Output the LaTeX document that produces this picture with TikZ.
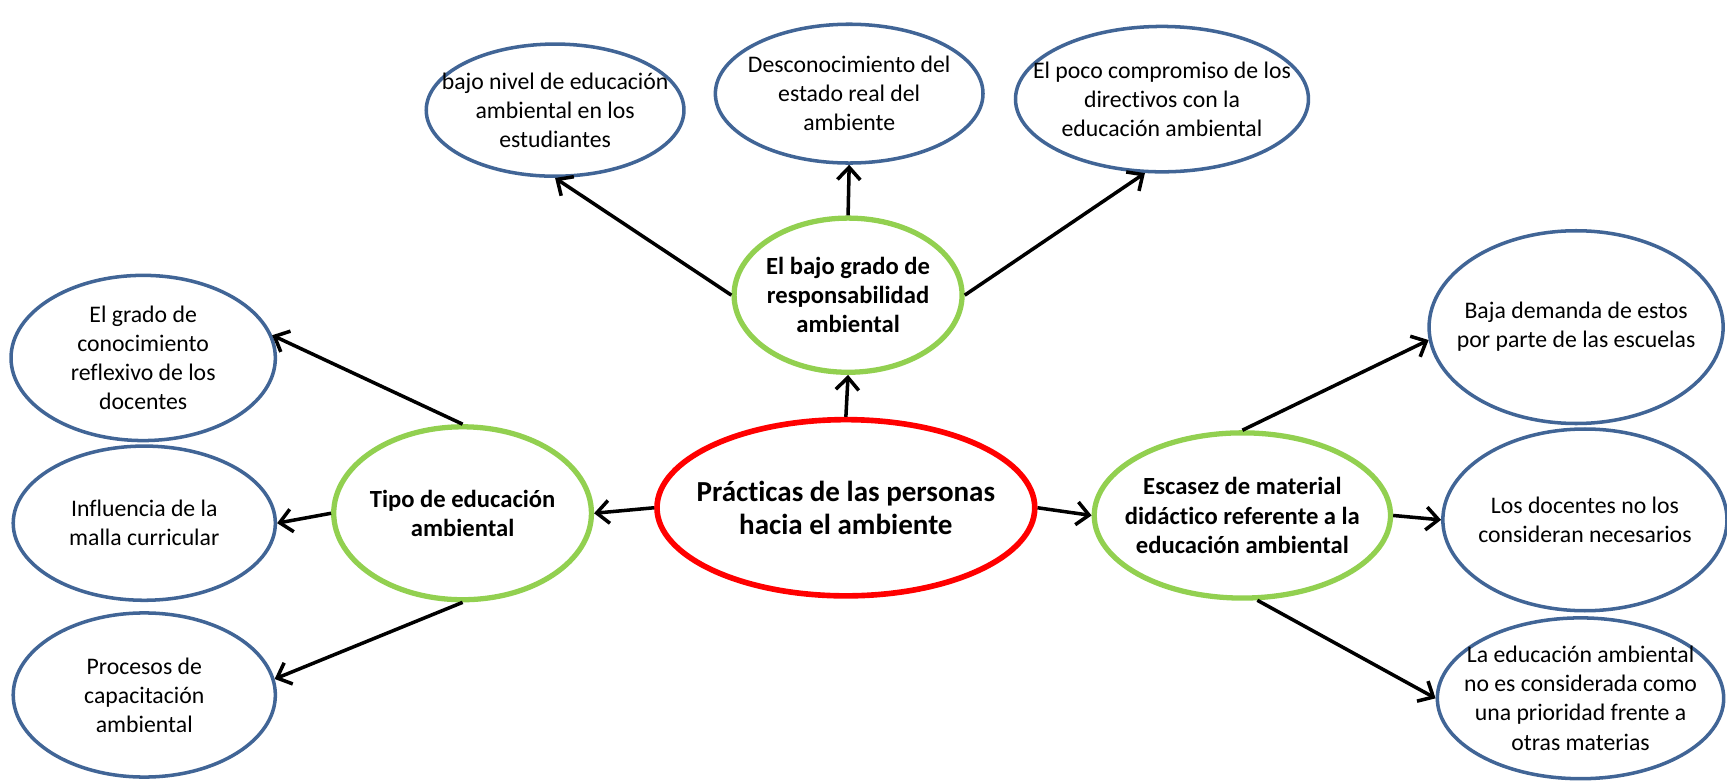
\documentclass[tikz,border=0pt]{standalone}
\usepackage{fontspec}
\setmainfont{Carlito}[Ligatures=NoCommon]
\usetikzlibrary{shapes.geometric, arrows.meta}
\newcommand{\uu}{0.022cm}
\definecolor{leafblue}{RGB}{65,101,150}
\definecolor{branchgreen}{RGB}{146,208,80}
\tikzset{
	dims/.style 2 args={minimum width=#1*\uu, minimum height=#2*\uu},
	leaf/.style={draw=leafblue, ellipse, line width=2pt, inner sep=-30pt, align=center, font=\fontsize{13.5}{16.5}\selectfont},
	branch/.style={draw=branchgreen, ellipse, line width=3pt, inner sep=-30pt, align=center, font=\fontsize{14}{16.5}\selectfont\bfseries},
	root/.style={draw=red, ellipse, line width=3.2pt, inner sep=-45pt, align=center, font=\fontsize{16.5}{19}\selectfont\bfseries},
}

\begin{document}
\begin{tikzpicture}[x=\uu, y=-\uu]
	\useasboundingbox (0,0) rectangle (1568,710);

	\node (prac) [root, dims={343}{160}] at (768,461) {Prácticas de las personas\\hacia el ambiente};

	% three branches
	\node (resp) [branch, dims={207}{140}] at (770,268) {El bajo grado de\\responsabilidad\\ambiental};
	\node (tipo) [branch, dims={234}{157}] at (420,466) {Tipo de educación\\ambiental};
	\node (esca) [branch, dims={269}{150}] at (1128,468) {Escasez de material\\didáctico referente a la\\educación ambiental};

	% leaves on top
	\node (nivel) [leaf, dims={234}{120}] at (504,100) {bajo nivel de educación\\ambiental en los\\estudiantes};
	\node (desc) [leaf, dims={243}{126}] at (771,85) {Desconocimiento del\\estado real del\\ambiente};
	\node (comp) [leaf, dims={266}{132}] at (1055,90) {El poco compromiso de los\\directivos con la\\educación ambiental};

	% leaves on the left
	\node (grado) [leaf, dims={240}{150}] at (130,325) {El grado de\\conocimiento\\reflexivo de los\\docentes};
	\node (malla) [leaf, dims={238}{140}] at (131,475) {Influencia de la\\malla curricular};
	\node (capa) [leaf, dims={238}{149}] at (131,631) {Procesos de\\capacitación\\ambiental};

	% leaves on the right
	\node (dem) [leaf, dims={267}{175}] at (1431,297) {Baja demanda de estos\\por parte de las escuelas};
	\node (nec) [leaf, dims={258}{165}] at (1439,472) {Los docentes no los\\consideran necesarios};
	\node (prio) [leaf, dims={260}{146}] at (1435,634) {La educación ambiental\\no es considerada como\\una prioridad frente a\\otras materias};

	\begin{scope}[line width=2pt, black, ->, >={Straight Barb[length=7pt,width=13pt]}]
		\draw (prac.north) -- (resp.south);
		\draw (prac.west) -- (tipo.east);
		\draw (prac.east) -- (esca.west);

		\draw (resp.west) -- (nivel.south);
		\draw (resp.north) -- (desc.south);
		\draw (resp.east) -- (comp.257);

		\draw (tipo.north) -- (grado.10);
		\draw (tipo.west) -- (malla.east);
		\draw (tipo.south) -- (capa.7);

		\draw (esca.north) -- (dem.185);
		\draw (esca.east) -- (nec.west);
		\draw (esca.-80) -- (prio.west);
	\end{scope}

\end{tikzpicture}
\end{document}
